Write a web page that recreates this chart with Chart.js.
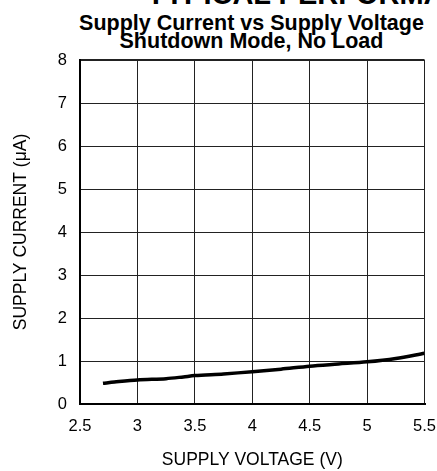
<!DOCTYPE html>
<html>
<head>
<meta charset="utf-8">
<script src="https://cdn.jsdelivr.net/npm/chart.js@4/dist/chart.umd.min.js"></script>
<style>
  html, body { margin: 0; padding: 0; background: #fff; }
  body { width: 437px; height: 471px; position: relative; overflow: hidden; font-family: "Liberation Sans", Arial, sans-serif; }
  .head { position: absolute; left: 0; width: 437px; text-align: center; font-weight: bold; color: #000; white-space: nowrap; }
  #top { left: 147px; width: auto; text-align: left; top: -22px; font-size: 29px; line-height: 32px; }
  #t1 { left: 33px; top: 10.5px; font-size: 21.5px; line-height: 24px; }
  #t2 { left: 33px; top: 28.5px; font-size: 21.5px; line-height: 24px; }
  #wrap { position: absolute; left: 0; top: 0; width: 437px; height: 471px; }
</style>
</head>
<body>
<div class="head" id="top">TYPICAL PERFORMANCE CHARACTERISTICS</div>
<div class="head" id="t1">Supply Current vs Supply Voltage</div>
<div class="head" id="t2">Shutdown Mode, No Load</div>
<div id="wrap"><canvas id="supplyChart"></canvas></div>
<script>
// 데이터: 전원 전압(V) / 공급 전류(uA)
const voltage = [2.7, 2.8, 3.0, 3.25, 3.4, 3.5, 3.75, 4.0, 4.25, 4.5, 4.75, 5.0, 5.25, 5.5];
const current = [0.48, 0.51, 0.56, 0.59, 0.63, 0.66, 0.70, 0.75, 0.81, 0.88, 0.93, 0.98, 1.06, 1.18];

const xTicks = [2.5, 3, 3.5, 4, 4.5, 5, 5.5];
const yTicks = [0, 1, 2, 3, 4, 5, 6, 7, 8];

const fontFamily = "'Liberation Sans', Arial, sans-serif";

const canvas = document.getElementById("supplyChart");

new Chart(canvas, {
  type: "line",
  data: {
    datasets: [
      {
        data: voltage.map((v, i) => ({ x: v, y: current[i] })),
        borderColor: "#000",
        borderWidth: 3.5,
        pointRadius: 0,
        tension: 0.3,
        fill: false,
      },
    ],
  },
  options: {
    responsive: true,
    maintainAspectRatio: false,
    animation: false,
    layout: { padding: { top: 60, right: 0, left: 0, bottom: 0 } },
    plugins: {
      legend: { display: false },
      tooltip: { enabled: false },
    },
    scales: {
      x: {
        type: "linear",
        min: xTicks[0],
        max: xTicks[xTicks.length - 1],
        afterBuildTicks: (scale) => { scale.ticks = xTicks.map((v) => ({ value: v })); },
        afterFit: (scale) => { scale.height = 67; },
        ticks: {
          color: "#000",
          font: { family: fontFamily, size: 16.5 },
          padding: 1,
          maxRotation: 0,
          callback: (v) => String(v),
        },
        grid: {
          color: "#222",
          lineWidth: (ctx) => (ctx.tick && (ctx.tick.value === xTicks[0]) ? 2 : 1),
          drawTicks: true,
          tickLength: 12,
          tickColor: "rgba(0,0,0,0)",
        },
        border: { display: true, color: "#000", width: 2 },
        title: {
          display: true,
          text: "SUPPLY VOLTAGE (V)",
          color: "#000",
          font: { family: fontFamily, size: 17.5 },
          padding: { top: 0, bottom: 0 },
        },
      },
      y: {
        min: yTicks[0],
        max: yTicks[yTicks.length - 1],
        afterBuildTicks: (scale) => { scale.ticks = yTicks.map((v) => ({ value: v })); },
        afterFit: (scale) => { scale.width = 80; },
        ticks: {
          color: "#000",
          font: { family: fontFamily, size: 16.5 },
          padding: 13,
        },
        grid: {
          color: "#222",
          lineWidth: (ctx) => (ctx.tick && ctx.tick.value === yTicks[yTicks.length - 1] ? 2 : 1),
          drawTicks: false,
        },
        border: { display: true, color: "#000", width: 2 },
        title: {
          display: true,
          text: "SUPPLY CURRENT (\u03bcA)",
          color: "#000",
          font: { family: fontFamily, size: 17.5 },
          padding: { top: 11, bottom: 0 },
        },
      },
    },
  },
});
</script>
</body>
</html>
